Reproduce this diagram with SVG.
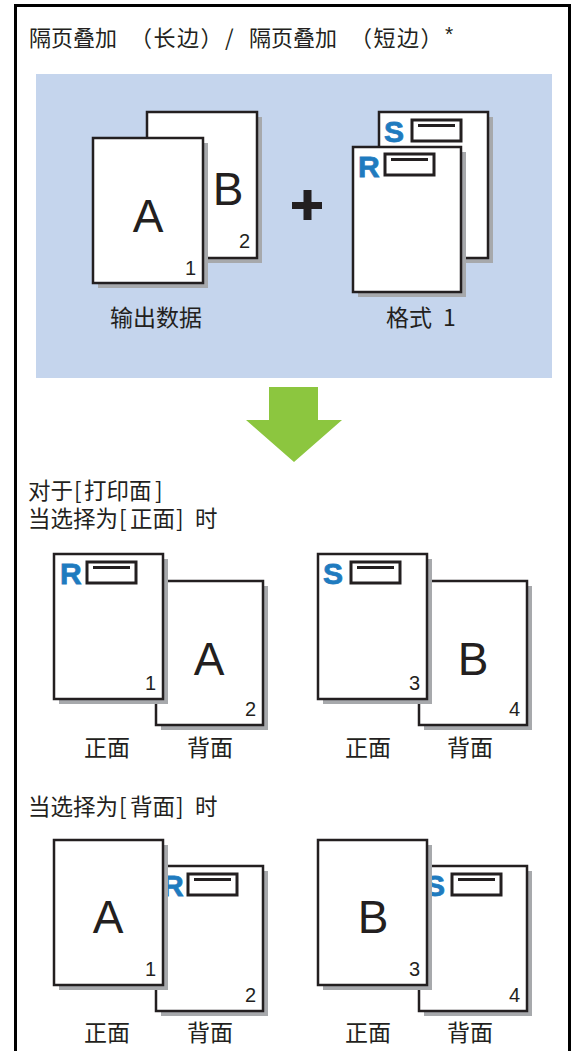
<svg xmlns="http://www.w3.org/2000/svg" width="574" height="1051" viewBox="0 0 574 1051">
<style>
.cjk{font-family:"Noto Sans CJK SC","Noto Sans",sans-serif;fill:#231f20}
.t{font-size:22px}
.l{font-size:23px}
.h{font-size:22.5px}
.sh{fill:#a7a9ac}
.pg{fill:#fff;stroke:#231f20;stroke-width:2.5}
.big{font-family:"Liberation Sans",Arial,sans-serif;font-size:46px;fill:#231f20;text-anchor:middle}
.num{font-family:"Liberation Sans",Arial,sans-serif;font-size:20px;fill:#231f20;text-anchor:end}
.mk{font-family:"Liberation Sans",Arial,sans-serif;font-size:30px;font-weight:bold;fill:#1f7bbf;stroke:#1f7bbf;stroke-width:0.8}
.box{fill:#fff;stroke:#231f20;stroke-width:3}
.bar{stroke:#231f20;stroke-width:3}
</style>
<rect x="15.5" y="5.5" width="554" height="1060" fill="#fff" stroke="#000" stroke-width="3"/>
<g id="title" class="cjk t">
<text y="46"><tspan x="29">隔页叠加</tspan><tspan x="130" letter-spacing="1.5">（长边）</tspan><tspan x="225">/</tspan><tspan x="249">隔页叠加</tspan><tspan x="350" letter-spacing="1.5">（短边）</tspan></text>
<text x="445" y="41" style="font-family:'Liberation Sans',Arial,sans-serif;font-size:21px;fill:#231f20">*</text>
</g>
<rect id="panel" x="36" y="74" width="516" height="304" fill="#c5d5ed"/>
<g id="output-data">
<rect class="sh" x="152" y="117" width="110" height="146"/>
<rect class="pg" x="147" y="112" width="110" height="146"/>
<text class="big" x="228" y="205">B</text>
<text class="num" x="250" y="248">2</text>
<rect class="sh" x="98" y="143" width="110" height="145"/>
<rect class="pg" x="93" y="138" width="110" height="145"/>
<text class="big" x="148" y="232">A</text>
<text class="num" x="196" y="275">1</text>
<text class="cjk l" x="156" y="326" text-anchor="middle">输出数据</text>
</g>
<g id="plus">
<rect x="292" y="202" width="30" height="7" fill="#231f20"/>
<rect x="303.5" y="190" width="8" height="30" fill="#231f20"/>
</g>
<g id="format">
<rect class="sh" x="384" y="117" width="109" height="146"/>
<rect class="pg" x="379" y="112" width="109" height="146"/>
<text class="mk" x="384" y="142">S</text>
<rect class="box" x="412" y="120" width="49" height="21"/>
<line class="bar" x1="418" y1="125.5" x2="455" y2="125.5"/>
<rect class="sh" x="358" y="152" width="108" height="145"/>
<rect class="pg" x="353" y="147" width="108" height="145"/>
<text class="mk" x="358" y="177">R</text>
<rect class="box" x="385" y="154" width="49" height="21"/>
<line class="bar" x1="391" y1="159.5" x2="428" y2="159.5"/>
<text class="cjk l" y="326"><tspan x="386">格式</tspan><tspan x="443">1</tspan></text>
</g>
<g id="connectors">
<polygon points="269,387 318,387 318,420 342,420 294,462 246,420 269,420" fill="#8cc63f"/>
</g>
<g id="heading-front" class="cjk h">
<text><tspan x="28" y="499">对于</tspan><tspan x="74" y="499">[</tspan><tspan x="84" y="499">打印面</tspan><tspan x="155" y="499">]</tspan><tspan x="28" y="527">当选择为</tspan><tspan x="119" y="527">[</tspan><tspan x="130" y="527">正面</tspan><tspan x="176" y="527">]</tspan><tspan x="195" y="527">时</tspan></text>
</g>
<g id="front-left">
<rect class="sh" x="161" y="586" width="107" height="144"/>
<rect class="pg" x="156" y="581" width="107" height="144"/>
<text class="big" x="209" y="675">A</text>
<text class="num" x="256" y="716">2</text>
<rect class="sh" x="59" y="559" width="109" height="145"/>
<rect class="pg" x="54" y="554" width="109" height="145"/>
<text class="mk" x="60" y="584">R</text>
<rect class="box" x="87" y="562" width="49" height="21"/>
<line class="bar" x1="93" y1="567.5" x2="130" y2="567.5"/>
<text class="num" x="156" y="690">1</text>
<text class="cjk l" x="84" y="756">正面</text>
<text class="cjk l" x="187" y="756">背面</text>
</g>
<g id="front-right">
<rect class="sh" x="424" y="586" width="108" height="144"/>
<rect class="pg" x="419" y="581" width="108" height="144"/>
<text class="big" x="473" y="675">B</text>
<text class="num" x="520" y="716">4</text>
<rect class="sh" x="323" y="559" width="109" height="145"/>
<rect class="pg" x="318" y="554" width="109" height="145"/>
<text class="mk" x="323" y="584">S</text>
<rect class="box" x="351" y="562" width="49" height="21"/>
<line class="bar" x1="357" y1="567.5" x2="394" y2="567.5"/>
<text class="num" x="420" y="690">3</text>
<text class="cjk l" x="345" y="756">正面</text>
<text class="cjk l" x="447" y="756">背面</text>
</g>
<g id="heading-back" class="cjk h">
<text y="815"><tspan x="28">当选择为</tspan><tspan x="119">[</tspan><tspan x="130">背面</tspan><tspan x="176">]</tspan><tspan x="195">时</tspan></text>
</g>
<g id="back-left">
<rect class="sh" x="161" y="871" width="107" height="145"/>
<rect class="pg" x="156" y="866" width="107" height="145"/>
<text class="mk" x="162" y="896">R</text>
<rect class="box" x="188" y="874" width="49" height="21"/>
<line class="bar" x1="194" y1="879.5" x2="231" y2="879.5"/>
<text class="num" x="256" y="1002">2</text>
<rect class="sh" x="59" y="845" width="109" height="145"/>
<rect class="pg" x="54" y="840" width="109" height="145"/>
<text class="big" x="108" y="933">A</text>
<text class="num" x="156" y="976">1</text>
<text class="cjk l" x="84" y="1041">正面</text>
<text class="cjk l" x="187" y="1041">背面</text>
</g>
<g id="back-right">
<rect class="sh" x="424" y="871" width="108" height="145"/>
<rect class="pg" x="419" y="866" width="108" height="145"/>
<text class="mk" x="425" y="896">S</text>
<rect class="box" x="452" y="874" width="49" height="21"/>
<line class="bar" x1="458" y1="879.5" x2="495" y2="879.5"/>
<text class="num" x="520" y="1002">4</text>
<rect class="sh" x="323" y="845" width="109" height="145"/>
<rect class="pg" x="318" y="840" width="109" height="145"/>
<text class="big" x="373" y="933">B</text>
<text class="num" x="420" y="976">3</text>
<text class="cjk l" x="345" y="1041">正面</text>
<text class="cjk l" x="447" y="1041">背面</text>
</g>
</svg>
